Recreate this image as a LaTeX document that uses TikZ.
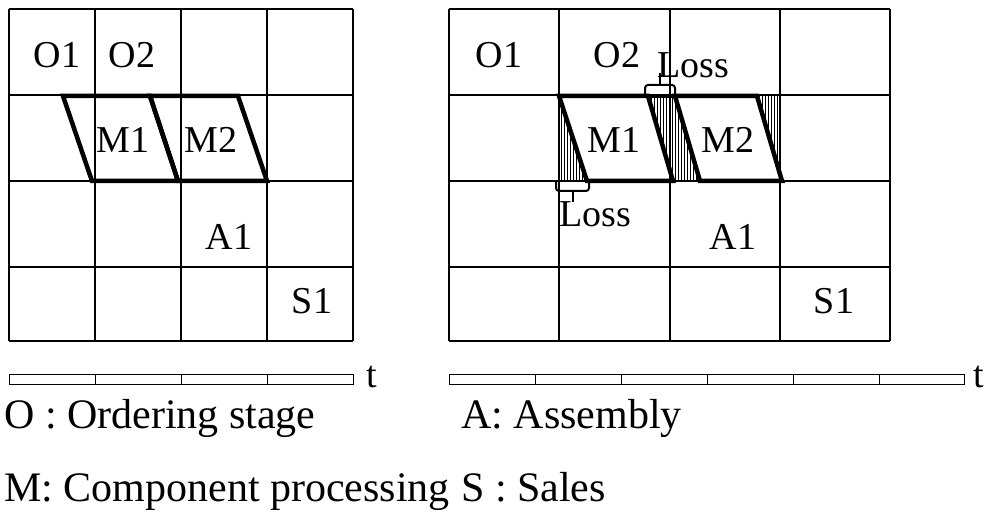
\documentclass[tikz,border=0pt]{standalone}
\usepackage{fontspec}
\setmainfont{Liberation Serif}
\usetikzlibrary{positioning,patterns.meta}

\begin{document}
\begin{tikzpicture}[x=1pt,y=-1pt]
          \tikzset{cell/.style={line width=1.2pt}}
          \tikzset{proc/.style={line width=4.5pt}}
          \tikzset{lossarea/.style={pattern={Lines[angle=90,distance=3pt,line width=0.9pt]}}}
          \tikzset{bar/.style={line width=1pt}}
          \tikzset{brk/.style={line width=2pt, rounded corners=3pt}}
          \tikzset{lbl/.style={font=\fontsize{38}{40}\selectfont, inner sep=0pt, anchor=base}}
          \tikzset{legend/.style={font=\fontsize{42}{44}\selectfont, inner sep=0pt, anchor=base west}}

          \useasboundingbox (0,0) rectangle (989,516);

          % left chart
          \foreach \x in {9,95,181,267,353} \draw[cell] (\x,9) -- (\x,341);
          \foreach \y in {9,95,181,267,341} \draw[cell] (9,\y) -- (353,\y);

          \draw[proc] (63,96) -- (150,96) -- (178,181) -- (92,181) -- cycle;
          \draw[proc] (150,96) -- (238,96) -- (267,181) -- (178,181) -- cycle;

          \node[lbl] (lO1) at (57,68) {O1};
          \node[lbl] (lO2) at (132,68) {O2};
          \node[lbl] (lM1) at (123,153) {M1};
          \node[lbl] (lM2) at (211,153) {M2};
          \node[lbl] (lA1) at (229,249) {A1};
          \node[lbl] (lS1) at (312,313) {S1};

          \draw[bar] (9,374) rectangle (353,384);
          \foreach \x in {95,181,267} \draw[bar] (\x,374) -- (\x,384);
          \node[lbl, anchor=base west] (lt) at (366,387) {t};

          % right chart
          \foreach \x in {449,559,670,780,890} \draw[cell] (\x,9) -- (\x,341);
          \foreach \y in {9,95,181,267,341} \draw[cell] (449,\y) -- (890,\y);

          \fill[lossarea] (559,96) -- (587,181) -- (559,181) -- cycle;
          \fill[lossarea] (648,96) -- (675,96) -- (700,181) -- (673,181) -- cycle;
          \fill[lossarea] (757,96) -- (780,96) -- (780,179) -- cycle;

          \draw[proc] (559,96) -- (648,96) -- (673,181) -- (587,181) -- cycle;
          \draw[proc] (675,96) -- (757,96) -- (782,181) -- (700,181) -- cycle;
          \draw[proc] (648,96) -- (675,96);

          \node[lbl] (rO1) at (499,68) {O1};
          \node[lbl] (rO2) at (617,68) {O2};
          \node[lbl] (rM1) at (614,153) {M1};
          \node[lbl] (rM2) at (728,153) {M2};
          \node[lbl] (rA1) at (733,249) {A1};
          \node[lbl] (rS1) at (834,313) {S1};
          \node[lbl, anchor=base west] (lossT) at (657,78) {Loss};
          \node[lbl, anchor=base west] (lossB) at (559,227) {Loss};

          \coordinate (brkT) at (660,85);
          \coordinate (brkB) at (573,191);
          \draw[brk] (645,95) -- (645,85) -- (675,85) -- (675,95);
          \draw[line width=2pt] (brkT) -- (660,73);
          \draw[brk] (556,182) -- (556,191) -- (589,191) -- (589,182);
          \draw[line width=2pt] (brkB) -- (brkB |- lossB.north);

          \draw[bar] (449,374) rectangle (964,384);
          \foreach \x in {535,621,707,793,879} \draw[bar] (\x,374) -- (\x,384);
          \node[lbl, anchor=base west] (rt) at (973,387) {t};

          % legend
          \node[legend] (legO) at (4,428) {O : Ordering stage};
          \node[legend] (legA) at (461,428) {A: Assembly};
          \node[legend] (legM) at (4,501) {M: Component processing};
          \node[legend] (legS) at (461,501) {S : Sales};
        \end{tikzpicture}
\end{document}
